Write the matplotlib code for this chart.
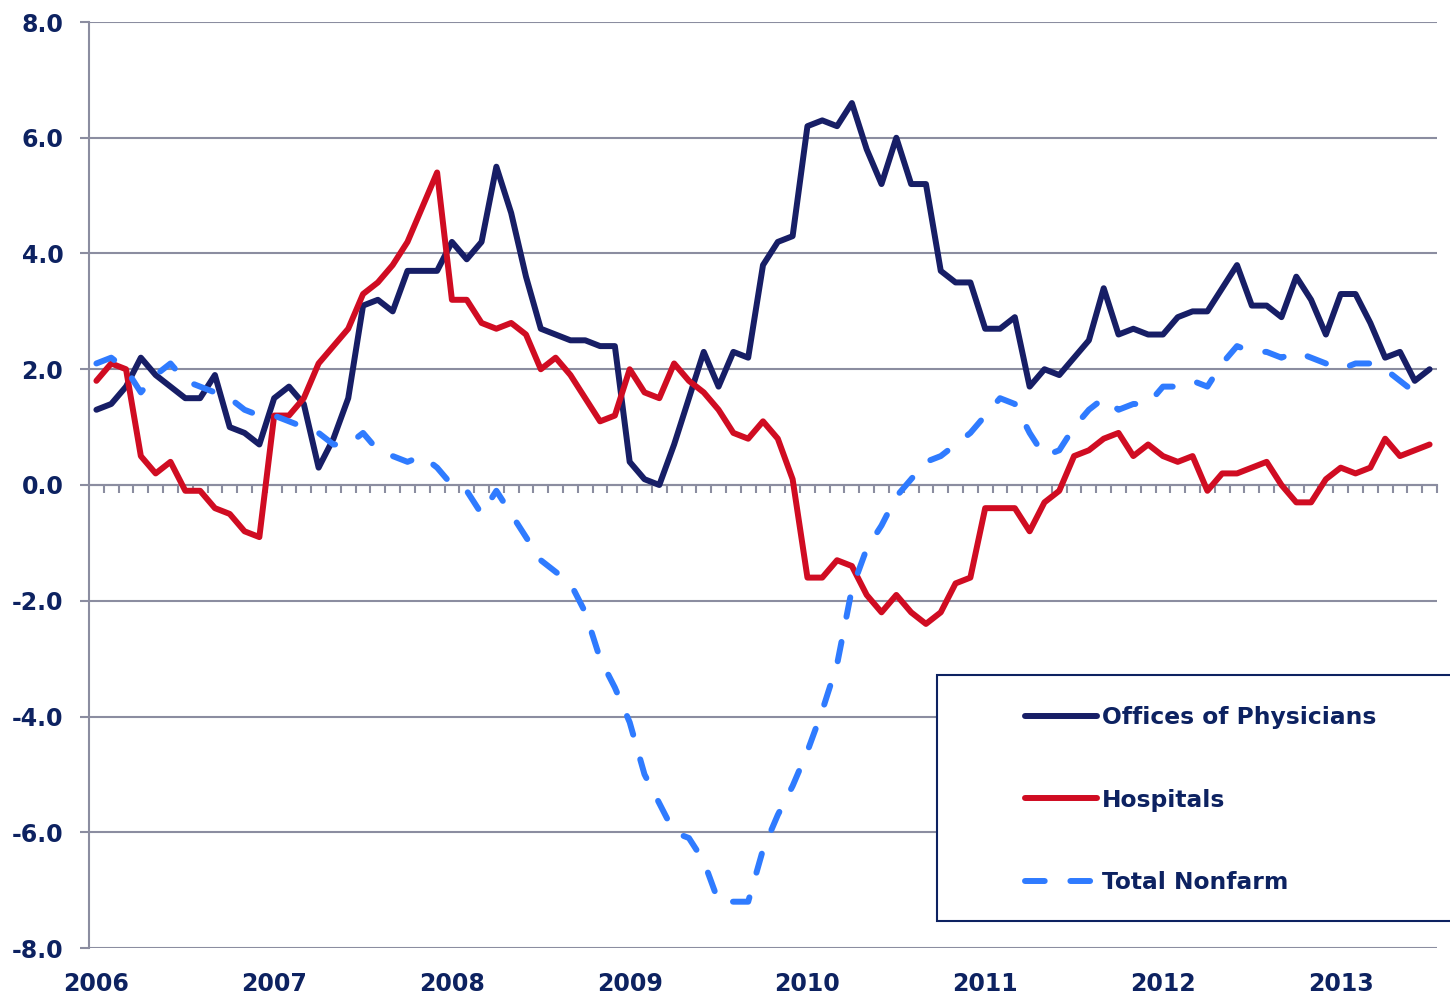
import matplotlib
matplotlib.use("Agg")
import matplotlib.pyplot as plt
from matplotlib.patches import Rectangle
import numpy as np

# monthly year-over-year % change, Jan 2006 .. Jul 2013
years = ["2006", "2007", "2008", "2009", "2010", "2011", "2012", "2013"]

physicians = [1.3, 1.4, 1.7, 2.2, 1.9, 1.7, 1.5, 1.5, 1.9, 1.0, 0.9, 0.7,
              1.5, 1.7, 1.4, 0.3, 0.8, 1.5, 3.1, 3.2, 3.0, 3.7, 3.7, 3.7,
              4.2, 3.9, 4.2, 5.5, 4.7, 3.6, 2.7, 2.6, 2.5, 2.5, 2.4, 2.4,
              0.4, 0.1, 0.0, 0.7, 1.5, 2.3, 1.7, 2.3, 2.2, 3.8, 4.2, 4.3,
              6.2, 6.3, 6.2, 6.6, 5.8, 5.2, 6.0, 5.2, 5.2, 3.7, 3.5, 3.5,
              2.7, 2.7, 2.9, 1.7, 2.0, 1.9, 2.2, 2.5, 3.4, 2.6, 2.7, 2.6,
              2.6, 2.9, 3.0, 3.0, 3.4, 3.8, 3.1, 3.1, 2.9, 3.6, 3.2, 2.6,
              3.3, 3.3, 2.8, 2.2, 2.3, 1.8, 2.0]

hospitals = [1.8, 2.1, 2.0, 0.5, 0.2, 0.4, -0.1, -0.1, -0.4, -0.5, -0.8, -0.9,
             1.2, 1.2, 1.5, 2.1, 2.4, 2.7, 3.3, 3.5, 3.8, 4.2, 4.8, 5.4,
             3.2, 3.2, 2.8, 2.7, 2.8, 2.6, 2.0, 2.2, 1.9, 1.5, 1.1, 1.2,
             2.0, 1.6, 1.5, 2.1, 1.8, 1.6, 1.3, 0.9, 0.8, 1.1, 0.8, 0.1,
             -1.6, -1.6, -1.3, -1.4, -1.9, -2.2, -1.9, -2.2, -2.4, -2.2, -1.7, -1.6,
             -0.4, -0.4, -0.4, -0.8, -0.3, -0.1, 0.5, 0.6, 0.8, 0.9, 0.5, 0.7,
             0.5, 0.4, 0.5, -0.1, 0.2, 0.2, 0.3, 0.4, 0.0, -0.3, -0.3, 0.1,
             0.3, 0.2, 0.3, 0.8, 0.5, 0.6, 0.7]

nonfarm = [2.1, 2.2, 2.0, 1.6, 1.9, 2.1, 1.8, 1.7, 1.6, 1.5, 1.3, 1.2,
           1.2, 1.1, 1.0, 0.9, 0.7, 0.7, 0.9, 0.6, 0.5, 0.4, 0.5, 0.3,
           0.0, -0.1, -0.5, -0.1, -0.5, -0.9, -1.3, -1.5, -1.7, -2.2, -3.0, -3.5,
           -4.1, -5.0, -5.5, -6.0, -6.1, -6.5, -7.2, -7.2, -7.2, -6.3, -5.7, -5.2,
           -4.6, -3.9, -3.1, -1.8, -1.1, -0.7, -0.2, 0.1, 0.4, 0.5, 0.7, 0.9,
           1.2, 1.5, 1.4, 0.9, 0.5, 0.6, 1.0, 1.3, 1.5, 1.3, 1.4, 1.4,
           1.7, 1.7, 1.8, 1.7, 2.1, 2.4, 2.3, 2.3, 2.2, 2.3, 2.2, 2.1,
           2.0, 2.1, 2.1, 2.0, 1.8, 1.6, 1.7]

navy = "#171e66"
red = "#d00c22"
blue = "#2f7bff"
text_c = "#0d2261"
grid_c = "#8b8da0"

plt.rcParams['font.family'] = ['DejaVu Sans']
plt.rcParams['font.weight'] = 'bold'

fig = plt.figure(figsize=(14.5, 9.98), dpi=100)
ax = fig.add_axes([89 / 1450, 50 / 998, 1348 / 1450, 926 / 998])

x = np.arange(len(physicians))
ax.plot(x, physicians, color=navy, lw=4.3, solid_capstyle='round',
        solid_joinstyle='round', label="Offices of Physicians", zorder=3)
ax.plot(x, hospitals, color=red, lw=4.3, solid_capstyle='round',
        solid_joinstyle='round', label="Hospitals", zorder=3)
ax.plot(x, nonfarm, color=blue, lw=4.3, linestyle=(0, (3.3, 4.3)),
        dash_capstyle='round', dash_joinstyle='round', label="Total Nonfarm", zorder=3)

ax.set_xlim(-0.5, len(physicians) - 0.5)
ax.set_ylim(-8, 8)

yt = np.arange(-8, 8.1, 2)
ax.set_yticks(yt)
ax.set_yticklabels([f"{v:.1f}" for v in yt])
ax.set_xticks(np.arange(len(years)) * 12)
ax.set_xticklabels(years)

ax.tick_params(axis='y', length=6.5, width=1.5, color=grid_c, pad=12,
               labelsize=17, labelcolor=text_c)
ax.tick_params(axis='x', length=0, pad=17, labelsize=17, labelcolor=text_c)

ax.grid(axis='y', color=grid_c, lw=1.5)
ax.set_axisbelow(True)
for s in ['top', 'right', 'bottom']:
    ax.spines[s].set_visible(False)
ax.spines['left'].set_color(grid_c)
ax.spines['left'].set_linewidth(1.5)

# zero line with monthly tick marks
sec = ax.secondary_xaxis(0.5)
sec.set_xticks(np.arange(1, len(physicians) + 1) - 0.5)
sec.set_xticklabels([])
sec.tick_params(axis='x', direction='in', length=6, width=1.5, color=grid_c)
sec.spines['top'].set_color(grid_c)
sec.spines['top'].set_linewidth(1.5)
sec.spines['bottom'].set_visible(False)

# legend box
fig.patches.append(Rectangle((937 / 1450, (998 - 921) / 998), 530 / 1450, 246 / 998,
                             transform=fig.transFigure, fill=True, facecolor='white',
                             edgecolor=text_c, lw=1.5, zorder=5))
leg = fig.legend(loc='upper left', bbox_to_anchor=(1004 / 1450, 1 - 685 / 998),
                 frameon=False, fontsize=16.8, handlelength=3.1, handletextpad=0.2,
                 labelspacing=2.55, labelcolor=text_c)
leg.set_zorder(6)
for h in leg.get_lines():
    h.set_linewidth(4.3)

fig.savefig("out.png", dpi=100)
